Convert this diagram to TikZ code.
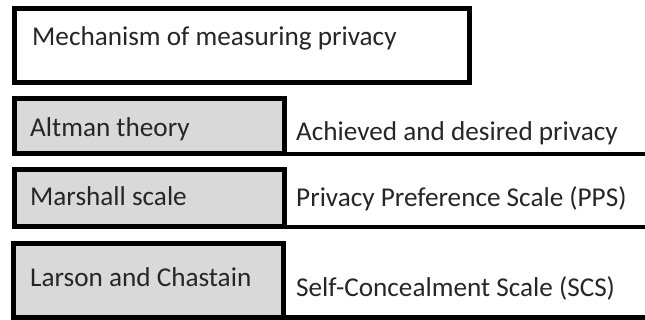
\documentclass[tikz,border=0pt]{standalone}
\usepackage{fontspec}
\setmainfont{Carlito}
\definecolor{cellgray}{HTML}{D9D9D9}
\begin{document}
\begin{tikzpicture}[x=1pt,y=-1pt,
  frame/.style={draw=black, line width=5pt, inner sep=0pt, outer sep=0pt, anchor=north west},
  graybox/.style={frame, fill=cellgray},
  label/.style={anchor=base west, inner sep=0pt, font=\fontsize{27.2}{30}\selectfont, text=black!85},
  rule/.style={line width=4.5pt}
]
\useasboundingbox (0,0) rectangle (645,320);

% heading box
\node[frame, minimum width=455pt, minimum height=74pt] (head) at (14,9) {};
\node[label] (headtext) at (32,46) {Mechanism of measuring privacy};

% left column: named approaches
\node[graybox, minimum width=270pt, minimum height=55pt] (altman) at (14,99) {};
\node[label] (altmantext) at (30,137) {Altman theory};

\node[graybox, minimum width=270pt, minimum height=57pt] (marshall) at (14,170) {};
\node[label] (marshalltext) at (30,206) {Marshall scale};

\node[graybox, minimum width=270pt, minimum height=73.5pt] (larson) at (13,244) {};
\node[label] (larsontext) at (30,287) {Larson and Chastain};

% right column: measures, each underlined to the edge
\coordinate (end1) at (645,153.5);
\coordinate (end2) at (645,228);
\coordinate (end3) at (645,317.5);
\draw[rule] (altman.south east) -- (altman.south east -| end1);
\draw[rule] (marshall.south east) -- (marshall.south east -| end2);
\draw[rule] (larson.south east) -- (larson.south east -| end3);

\node[label] (achieved) at (296,141) {Achieved and desired privacy};
\node[label] (pps) at (296,207) {Privacy Preference Scale (PPS)};
\node[label] (scs) at (296,297) {Self-Concealment Scale (SCS)};
\end{tikzpicture}
\end{document}
